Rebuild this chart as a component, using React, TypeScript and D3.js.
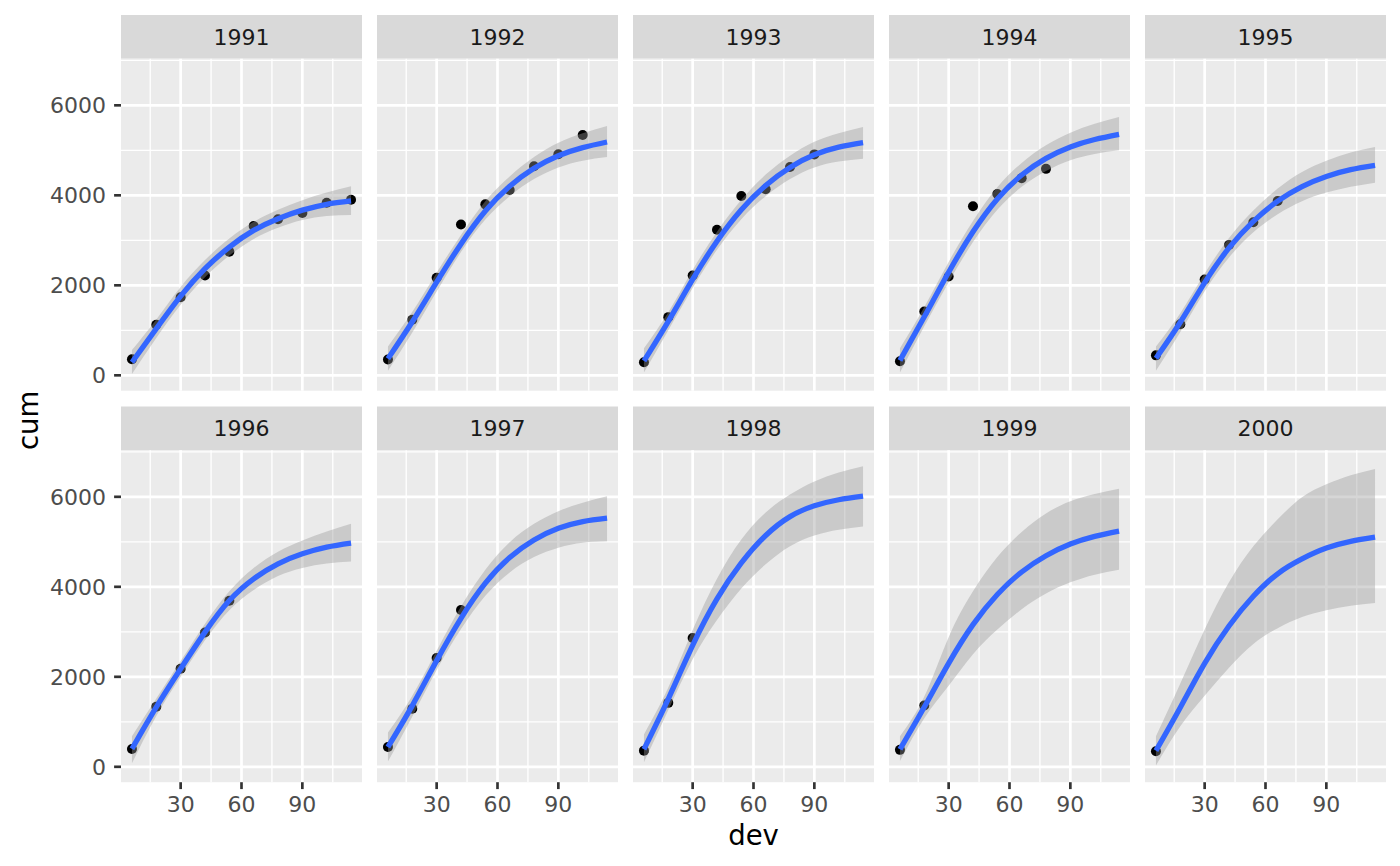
import React from 'react';
import * as d3 from 'd3';

// ---- data ----
const years = ['1991', '1992', '1993', '1994', '1995', '1996', '1997', '1998', '1999', '2000'];
const devs = [6, 18, 30, 42, 54, 66, 78, 90, 102, 114];

// observed cumulative claims (thousands)
const cumObserved: number[][] = [
  [357.848, 1124.788, 1735.33, 2218.27, 2745.596, 3319.994, 3466.336, 3606.286, 3833.515, 3901.463],
  [352.118, 1236.139, 2170.033, 3353.322, 3799.067, 4120.063, 4647.867, 4914.039, 5339.085],
  [290.507, 1292.306, 2218.525, 3235.179, 3985.995, 4132.918, 4628.91, 4909.315],
  [310.608, 1418.858, 2195.047, 3757.447, 4029.929, 4381.982, 4588.268],
  [443.16, 1136.35, 2128.333, 2897.821, 3402.672, 3873.311],
  [396.132, 1333.217, 2180.715, 2985.752, 3691.712],
  [440.832, 1288.463, 2419.861, 3483.13],
  [359.48, 1421.128, 2864.498],
  [376.686, 1363.294],
  [344.014],
];

// fitted curve at devs
const fitMean: number[][] = [
  [290, 1037, 1760, 2370, 2850, 3220, 3480, 3670, 3800, 3874],
  [370, 1190, 2070, 2920, 3650, 4200, 4600, 4880, 5060, 5185],
  [320, 1200, 2130, 2980, 3680, 4220, 4620, 4900, 5070, 5170],
  [330, 1300, 2290, 3190, 3920, 4450, 4820, 5075, 5240, 5355],
  [380, 1180, 2060, 2830, 3420, 3870, 4195, 4420, 4570, 4666],
  [400, 1326, 2178, 2993, 3696, 4178, 4511, 4733, 4881, 4970],
  [440, 1360, 2360, 3300, 4080, 4650, 5040, 5300, 5450, 5526],
  [390, 1510, 2700, 3730, 4530, 5140, 5560, 5800, 5935, 6014],
  [390, 1330, 2300, 3160, 3830, 4330, 4690, 4950, 5120, 5237],
  [360, 1320, 2300, 3130, 3790, 4290, 4620, 4860, 5010, 5104],
];

const fitLower: number[][] = [
  [30, 830, 1570, 2180, 2660, 3030, 3280, 3450, 3540, 3560],
  [100, 950, 1860, 2740, 3460, 3980, 4360, 4620, 4770, 4850],
  [60, 1000, 1940, 2790, 3470, 3980, 4360, 4620, 4750, 4815],
  [60, 1090, 2070, 2960, 3680, 4190, 4540, 4780, 4920, 5000],
  [100, 960, 1870, 2620, 3180, 3580, 3870, 4060, 4190, 4281],
  [80, 1130, 2000, 2810, 3480, 3930, 4240, 4420, 4520, 4560],
  [120, 1120, 2150, 3060, 3800, 4320, 4660, 4870, 4980, 5010],
  [100, 1260, 2390, 3260, 3960, 4500, 4900, 5140, 5270, 5340],
  [130, 1080, 1800, 2500, 3050, 3500, 3850, 4100, 4270, 4380],
  [30, 900, 1580, 2200, 2730, 3080, 3330, 3480, 3580, 3640],
];

const fitUpper: number[][] = [
  [560, 1240, 1960, 2560, 3040, 3410, 3680, 3890, 4060, 4200],
  [640, 1410, 2280, 3120, 3870, 4420, 4850, 5170, 5380, 5540],
  [600, 1400, 2340, 3190, 3900, 4460, 4880, 5190, 5380, 5520],
  [600, 1520, 2520, 3430, 4180, 4720, 5110, 5390, 5590, 5740],
  [640, 1380, 2260, 3050, 3660, 4150, 4520, 4770, 4950, 5074],
  [680, 1520, 2350, 3180, 3900, 4420, 4780, 5030, 5230, 5400],
  [760, 1580, 2580, 3560, 4380, 4990, 5400, 5680, 5870, 6010],
  [720, 1760, 3040, 4180, 5050, 5650, 6050, 6340, 6540, 6680],
  [680, 1560, 2880, 3900, 4660, 5220, 5630, 5900, 6060, 6180],
  [680, 1850, 3050, 4100, 4900, 5500, 5990, 6280, 6480, 6620],
];

const yMajor = [0, 2000, 4000, 6000];
const yMinor = [1000, 3000, 5000, 7000];
const xMajor = [30, 60, 90];
const xMinor = [15, 45, 75, 105];

// ---- layout ----
const W = 1400;
const H = 866;
const colX = [121, 377, 633, 889, 1145];
const panelW = 241;
const stripTops = [15, 406.5];
const stripH = 43.7;
const panelH = 332;
const FONT = 'DejaVu Sans, Liberation Sans, sans-serif';
const PX = 180 / 72;

const xDomain: [number, number] = [0.6, 119.4];
const yDomain: [number, number] = [-342, 7036];

function Panel({ idx }: { idx: number }) {
  const col = idx % 5;
  const row = Math.floor(idx / 5);
  const x0 = colX[col];
  const sTop = stripTops[row];
  const pTop = sTop + stripH;
  const pBot = pTop + panelH;
  const x = d3.scaleLinear().domain(xDomain).range([x0, x0 + panelW]);
  const y = d3.scaleLinear().domain(yDomain).range([pBot, pTop]);

  const fit = devs.map((d, i) => ({ d, m: fitMean[idx][i], lo: fitLower[idx][i], hi: fitUpper[idx][i] }));
  const curve = d3.curveNatural;
  const line = d3
    .line<any>()
    .x((p) => x(p.d))
    .y((p) => y(p.m))
    .curve(curve);
  const area = d3
    .area<any>()
    .x((p) => x(p.d))
    .y0((p) => y(p.lo))
    .y1((p) => y(p.hi))
    .curve(curve);

  const obs = cumObserved[idx].map((v, i) => ({ d: devs[i], v }));
  const majorW = 0.5 * 2.845 / 96 * 180;
  const minorW = majorW / 2;

  return (
    <g>
      {/* strip */}
      <rect x={x0} y={sTop} width={panelW} height={stripH} fill="#D9D9D9" />
      <text
        x={x0 + panelW / 2}
        y={sTop + stripH / 2 + 8}
        textAnchor="middle"
        fontFamily={FONT}
        fontSize={8.8 * PX}
        fill="#1A1A1A"
      >
        {years[idx]}
      </text>
      {/* panel background */}
      <rect x={x0} y={pTop} width={panelW} height={panelH} fill="#EBEBEB" />
      <g>
        {yMinor
          .filter((v) => v >= yDomain[0] && v <= yDomain[1])
          .map((v) => (
            <line key={'ym' + v} x1={x0} x2={x0 + panelW} y1={y(v)} y2={y(v)} stroke="#FFFFFF" strokeWidth={minorW} />
          ))}
        {xMinor.map((v) => (
          <line key={'xm' + v} x1={x(v)} x2={x(v)} y1={pTop} y2={pBot} stroke="#FFFFFF" strokeWidth={minorW} />
        ))}
        {yMajor.map((v) => (
          <line key={'yM' + v} x1={x0} x2={x0 + panelW} y1={y(v)} y2={y(v)} stroke="#FFFFFF" strokeWidth={majorW} />
        ))}
        {xMajor.map((v) => (
          <line key={'xM' + v} x1={x(v)} x2={x(v)} y1={pTop} y2={pBot} stroke="#FFFFFF" strokeWidth={majorW} />
        ))}
      </g>
      {/* points */}
      {obs.map((p, i) => (
        <circle key={i} cx={x(p.d)} cy={y(p.v)} r={5} fill="#000000" />
      ))}
      {/* ribbon + line */}
      <path d={area(fit) || ''} fill="#999999" fillOpacity={0.4} stroke="none" />
      <path d={line(fit) || ''} fill="none" stroke="#3366FF" strokeWidth={5.3} />
      {/* y axis */}
      {col === 0 &&
        yMajor.map((v) => (
          <g key={'yt' + v}>
            <line x1={x0 - 6.9} x2={x0} y1={y(v)} y2={y(v)} stroke="#333333" strokeWidth={majorW} />
            <text
              x={x0 - 15}
              y={y(v) + 8}
              textAnchor="end"
              fontFamily={FONT}
              fontSize={8.8 * PX}
              fill="#4D4D4D"
            >
              {v}
            </text>
          </g>
        ))}
      {/* x axis */}
      {row === 1 &&
        xMajor.map((v) => (
          <g key={'xt' + v}>
            <line x1={x(v)} x2={x(v)} y1={pBot} y2={pBot + 6.9} stroke="#333333" strokeWidth={majorW} />
            <text
              x={x(v)}
              y={pBot + 29.8}
              textAnchor="middle"
              fontFamily={FONT}
              fontSize={8.8 * PX}
              fill="#4D4D4D"
            >
              {v}
            </text>
          </g>
        ))}
    </g>
  );
}

export default function App() {
  const pTop1 = stripTops[0] + stripH;
  const pBot2 = stripTops[1] + stripH + panelH;
  return (
    <svg
      width={W}
      height={H}
      viewBox={`0 0 ${W} ${H}`}
      style={{ position: 'absolute', left: 0, top: 0, background: '#FFFFFF' }}
    >
      <rect x={0} y={0} width={W} height={H} fill="#FFFFFF" />
      {years.map((_, i) => (
        <Panel key={i} idx={i} />
      ))}
      <text
        x={(colX[0] + colX[4] + panelW) / 2}
        y={845}
        textAnchor="middle"
        fontFamily={FONT}
        fontSize={11 * PX}
        fill="#000000"
      >
        dev
      </text>
      <text
        transform={`translate(38, ${(pTop1 + pBot2) / 2}) rotate(-90)`}
        textAnchor="middle"
        fontFamily={FONT}
        fontSize={11 * PX}
        fill="#000000"
      >
        cum
      </text>
    </svg>
  );
}
